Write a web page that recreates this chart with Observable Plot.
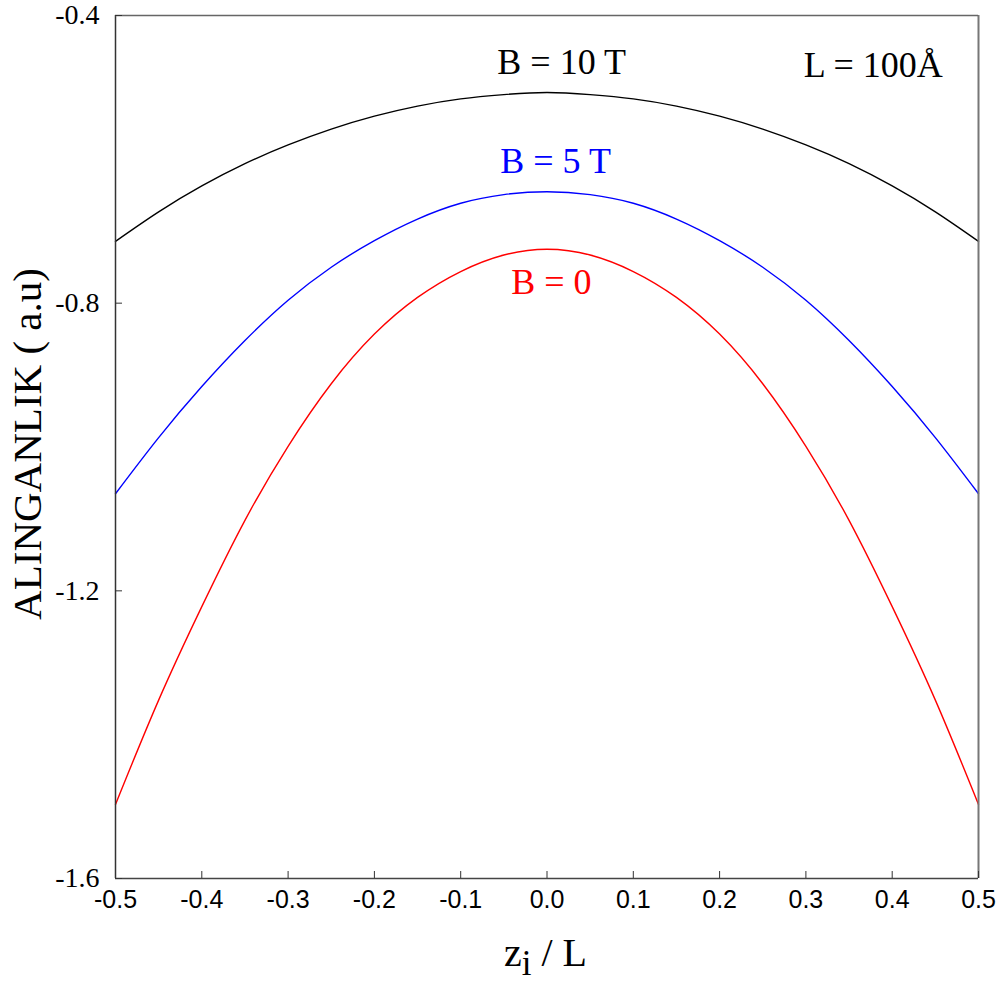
<!DOCTYPE html>
<html><head><meta charset="utf-8">
<script src="https://cdn.jsdelivr.net/npm/d3@7"></script>
<script src="https://cdn.jsdelivr.net/npm/@observablehq/plot@0.6"></script>
<style>body{margin:0;background:#fff} #chart svg{display:block}</style>
</head><body><div id="chart"></div>
<script>
// z_i / L positions
const zi = [-0.5, -0.45, -0.4, -0.35, -0.3, -0.25, -0.2, -0.15, -0.1, -0.05, 0,
            0.05, 0.1, 0.15, 0.2, 0.25, 0.3, 0.35, 0.4, 0.45, 0.5];
// Susceptibility (a.u) for each field
const B10 = [-0.714, -0.673, -0.637, -0.606, -0.580, -0.558, -0.540, -0.526, -0.516, -0.510, -0.507,
             -0.510, -0.516, -0.526, -0.540, -0.558, -0.580, -0.606, -0.637, -0.673, -0.714];
const B5  = [-1.065, -0.987, -0.916, -0.852, -0.796, -0.750, -0.713, -0.683, -0.661, -0.649, -0.645,
             -0.649, -0.661, -0.683, -0.713, -0.750, -0.796, -0.852, -0.916, -0.987, -1.065];
const B0  = [-1.497, -1.352, -1.222, -1.102, -0.999, -0.912, -0.843, -0.792, -0.756, -0.733, -0.725,
             -0.733, -0.756, -0.792, -0.843, -0.912, -0.999, -1.102, -1.222, -1.352, -1.497];
const seriesNames = ["B = 10 T", "B = 5 T", "B = 0"];
const seriesColors = ["#000000", "#0000ff", "#ff0000"];
const xTicks = [-0.5, -0.4, -0.3, -0.2, -0.1, 0, 0.1, 0.2, 0.3, 0.4, 0.5];
const yTicks = [-0.4, -0.8, -1.2, -1.6];
const yTickLabels = ["-0.4", "-0.8", "-1.2", "-1.6"];

const seriesValues = [B10, B5, B0];
const rows = seriesNames.flatMap((name, s) => zi.map((z, i) => ({z, v: seriesValues[s][i], name})));
const yLabelRows = yTicks.map((v, i) => ({v, label: yTickLabels[i]}));

const serif = "Liberation Serif, Times New Roman, serif";
const sans = "Liberation Sans, Arial, sans-serif";

const plot = Plot.plot({
  width: 1003, height: 985,
  marginLeft: 115, marginRight: 25, marginTop: 15, marginBottom: 107,
  style: {background: "#fff", overflow: "visible"},
  x: {domain: [-0.5, 0.5]},
  y: {domain: [-1.6, -0.4]},
  color: {domain: seriesNames, range: seriesColors},
  marks: [
    Plot.line(rows, {x: "z", y: "v", stroke: "name", strokeWidth: 1.4, curve: "natural"}),
    // frame edges
    Plot.ruleX([-0.5], {stroke: "#333", strokeWidth: 1.5}),
    Plot.ruleX([0.5], {stroke: "#777", strokeWidth: 2}),
    Plot.ruleY([-0.4], {stroke: "#666", strokeWidth: 1.5}),
    Plot.ruleY([-1.6], {stroke: "#444", strokeWidth: 1.5}),
    // inward ticks
    Plot.axisX({ticks: xTicks, tickSize: -7, tickFormat: () => "", stroke: "#333", label: null}),
    Plot.axisY({ticks: yTicks, tickSize: -7, tickFormat: () => "", stroke: "#333", label: null}),
    // tick labels
    Plot.text(xTicks, {x: d => d, text: d => d.toFixed(1), frameAnchor: "bottom", dy: 29,
                       fontSize: 25, fontFamily: sans, fill: "#000"}),
    Plot.text(yLabelRows, {y: "v", text: "label", frameAnchor: "left", dx: -16,
                       textAnchor: "end", fontSize: 28, fontFamily: serif, fill: "#000"}),
    // y title
    Plot.text(["ALINGANLIK ( a.u)"], {frameAnchor: "left", dx: -88, dy: -3, rotate: -90,
              fontSize: 41, fontFamily: serif, fill: "#000", textAnchor: "middle"}),
    // curve labels
    Plot.text(["B = 10 T"], {x: 0.017, y: -0.466, fontSize: 36, fontFamily: serif, fill: "#000"}),
    Plot.text(["B = 5 T"], {x: 0.010, y: -0.603, fontSize: 36, fontFamily: serif, fill: "#0000ff"}),
    Plot.text(["B = 0"], {x: 0.005, y: -0.771, fontSize: 36, fontFamily: serif, fill: "#ff0000"}),
    Plot.text(["L = 100Å"], {x: 0.378, y: -0.469, fontSize: 36, fontFamily: serif, fill: "#000"})
  ]
});

// x title with subscript
const xs = plot.scale("x");
const svg = d3.select(plot);
const t = svg.append("text")
  .attr("x", xs.apply(0) - 1)
  .attr("y", 985 - 19)
  .attr("text-anchor", "middle")
  .attr("font-family", serif)
  .attr("font-size", 40)
  .attr("fill", "#000");
t.append("tspan").text("z");
t.append("tspan").attr("font-size", 35).attr("dy", 9).text("i");
t.append("tspan").attr("dy", -9).text(" / L");

document.getElementById("chart").appendChild(plot);
</script>
</body></html>
